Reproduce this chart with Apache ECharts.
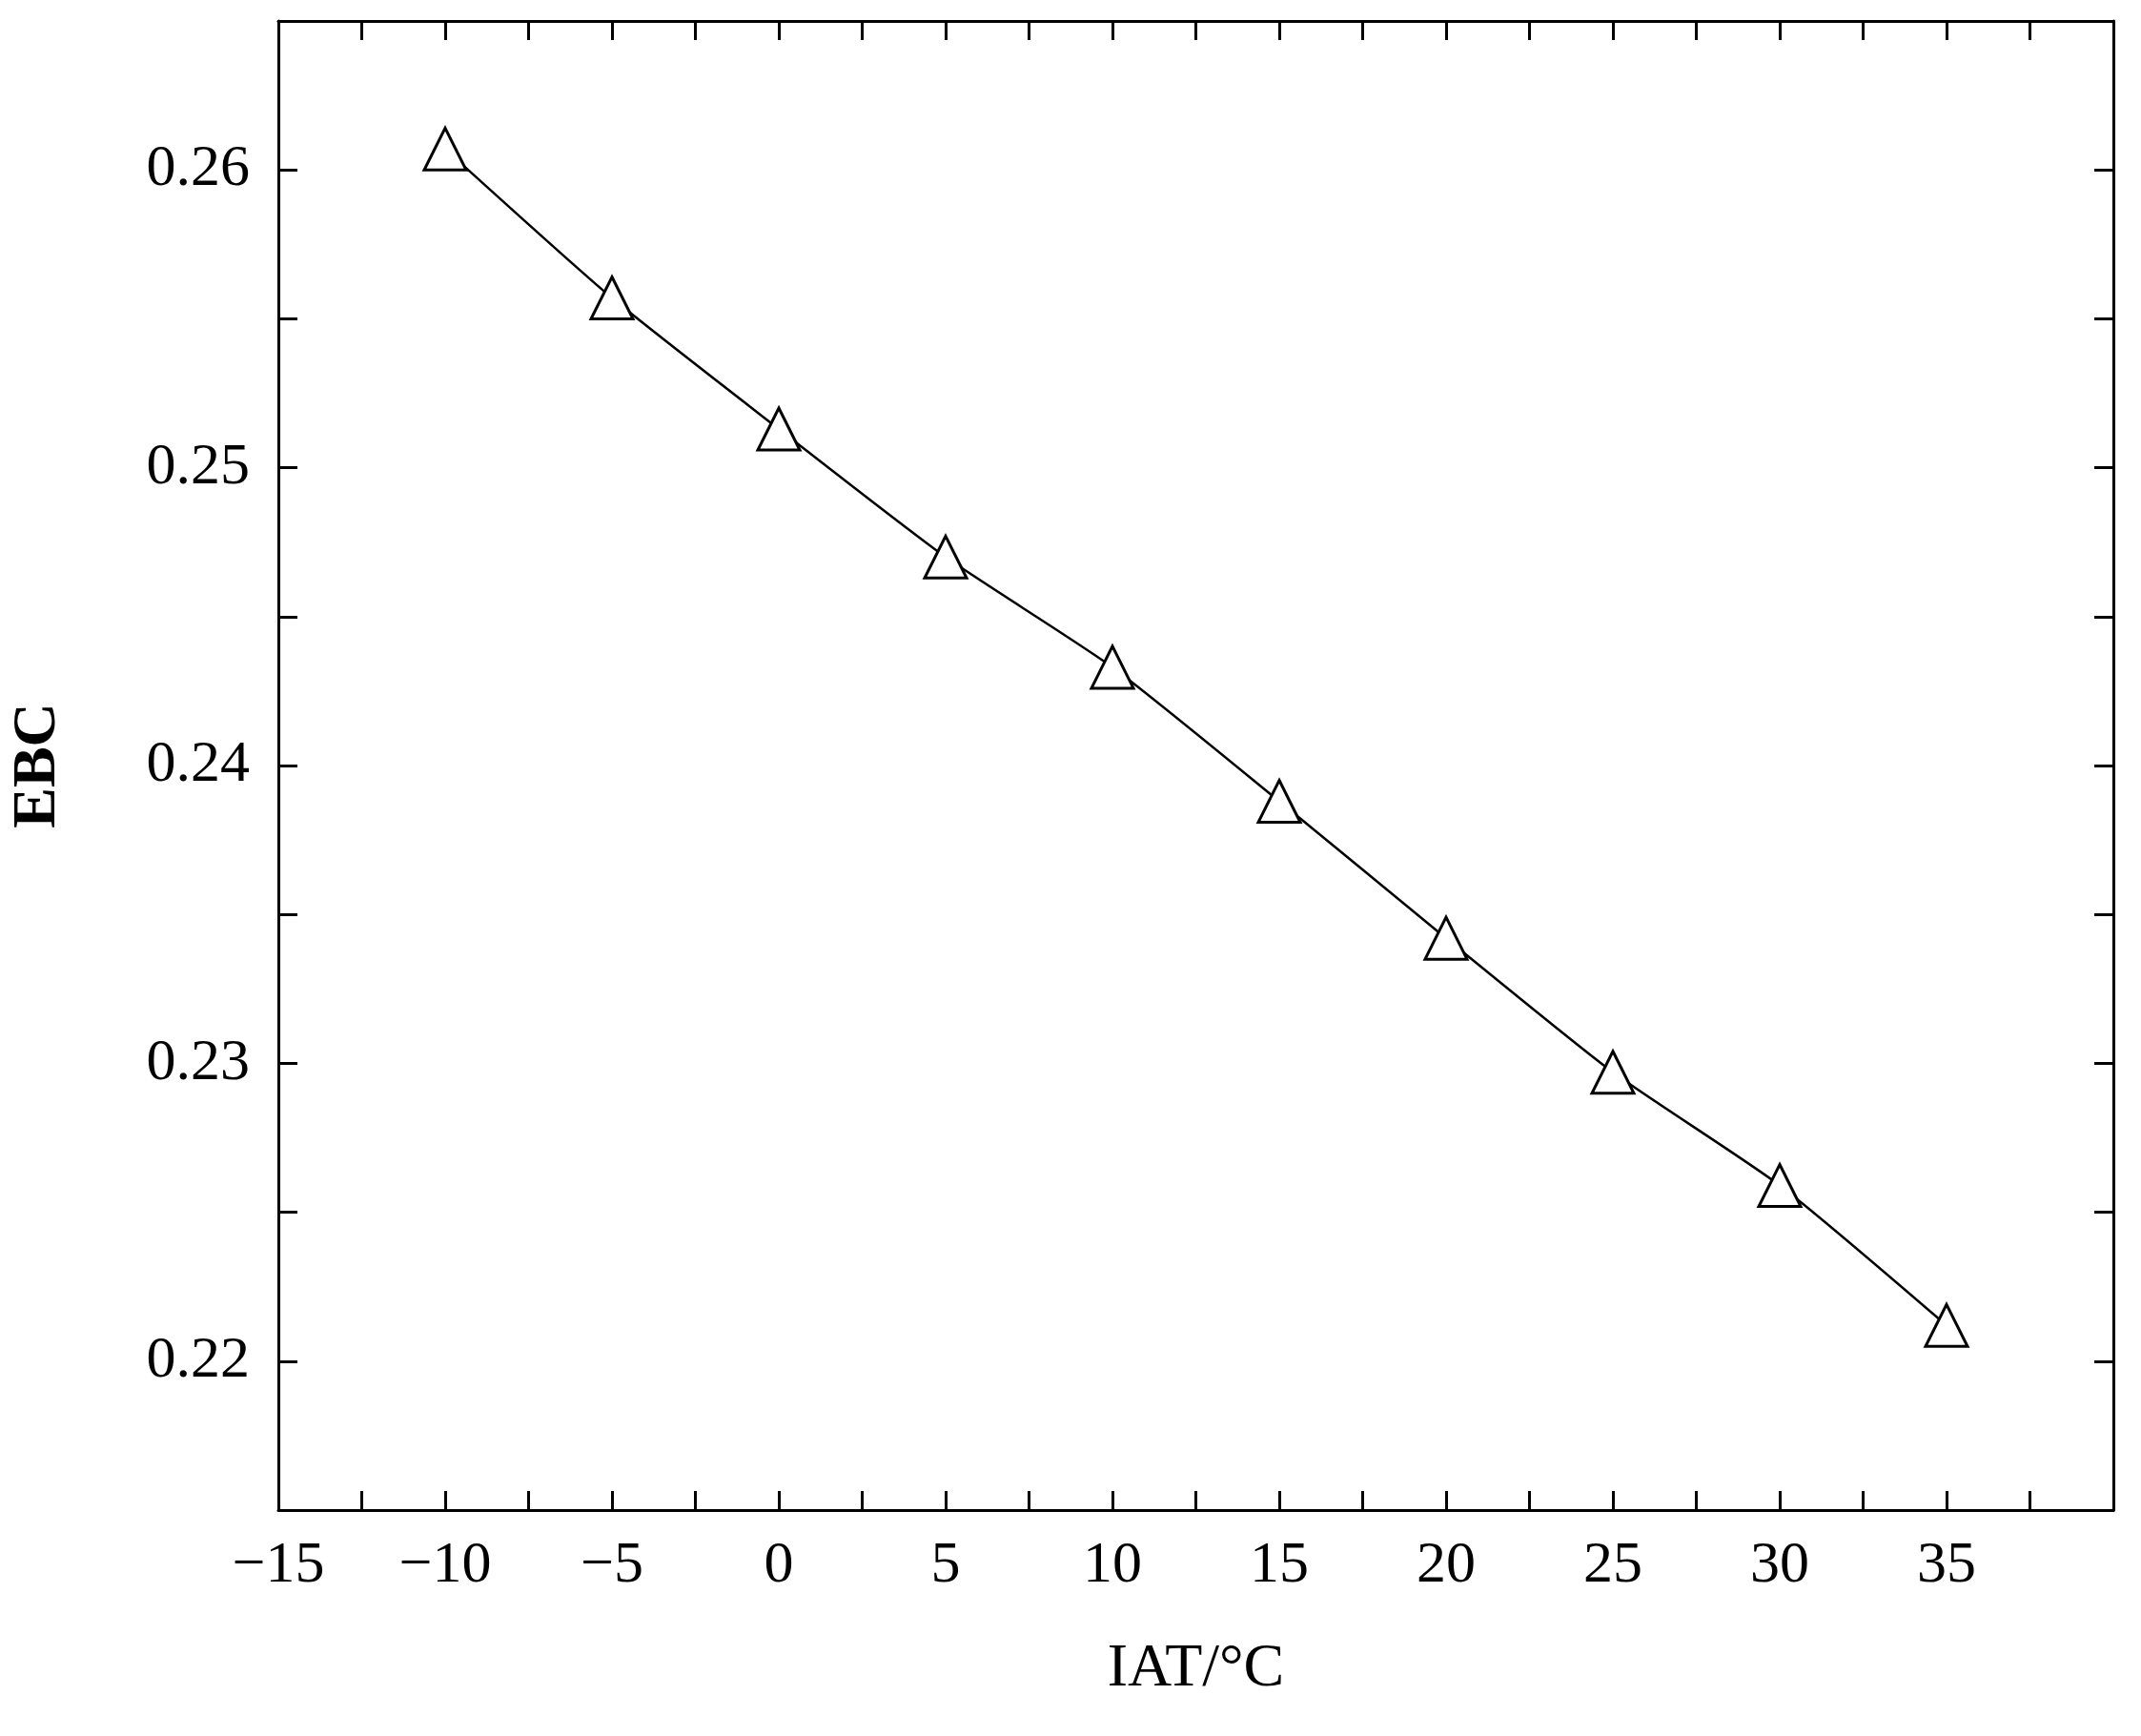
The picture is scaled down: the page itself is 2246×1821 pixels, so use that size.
<!DOCTYPE html>
<html><head><meta charset="utf-8">
<script src="https://cdn.jsdelivr.net/npm/echarts@6/dist/echarts.min.js"></script>
<style>html,body{margin:0;background:#fff}#c{width:2246px;height:1821px}</style>
</head><body><div id="c"></div>
<script>
// IAT (°C) vs EBC
const iat = [-10, -5, 0, 5, 10, 15, 20, 25, 30, 35];
const ebc = [0.2607, 0.2557, 0.2513, 0.2470, 0.2433, 0.2388, 0.2342, 0.2297, 0.2259, 0.2212];

const font = 'Liberation Serif';
const chart = echarts.init(document.getElementById('c'));

function xLab(v) {
  if (Math.round(v * 10) % 50 !== 0) return '';
  return String(v).replace('-', '\u2212');
}
function yLab(v) {
  let k = Math.round(v * 1000);
  if (k % 10 !== 0) return '';
  return v.toFixed(2);
}
const lineSt = { color: '#000', width: 3 };
const axLine = { onZero: false, lineStyle: lineSt };
const tickSt = { show: true, inside: true, length: 20, lineStyle: lineSt };

chart.setOption({
  animation: false,
  grid: { left: 282, right: 29, top: 22, bottom: 237 },
  xAxis: [{
    type: 'value', min: -15, max: 40, interval: 2.5,
    name: 'IAT/°C', nameLocation: 'middle', nameGap: 135,
    nameTextStyle: { fontFamily: font, fontSize: 64, color: '#000' },
    axisLine: axLine, axisTick: tickSt, splitLine: { show: false },
    axisLabel: { formatter: xLab, fontFamily: font, fontSize: 62, color: '#000', margin: 28, showMaxLabel: false }
  }, {
    type: 'value', min: -15, max: 40, interval: 2.5, position: 'top',
    axisLine: axLine, axisTick: tickSt, splitLine: { show: false }, axisLabel: { show: false }
  }],
  yAxis: [{
    type: 'value', min: 0.215, max: 0.265, interval: 0.005,
    name: 'EBC', nameLocation: 'middle', nameGap: 220, nameRotate: 90,
    nameTextStyle: { fontFamily: font, fontSize: 64, color: '#000', fontWeight: 'bold' },
    axisLine: axLine, axisTick: tickSt, splitLine: { show: false },
    axisLabel: { formatter: yLab, fontFamily: font, fontSize: 62, color: '#000', margin: 30 }
  }, {
    type: 'value', min: 0.215, max: 0.265, interval: 0.005, position: 'right',
    axisLine: axLine, axisTick: tickSt, splitLine: { show: false }, axisLabel: { show: false }
  }],
  series: [{
    type: 'line', data: iat.map((x, i) => [x, ebc[i]]),
    smooth: 0.2, symbol: 'triangle', symbolSize: 44,
    lineStyle: { color: '#000', width: 2.5 },
    itemStyle: { color: '#fff', borderColor: '#000', borderWidth: 3 }
  }]
});
</script></body></html>
